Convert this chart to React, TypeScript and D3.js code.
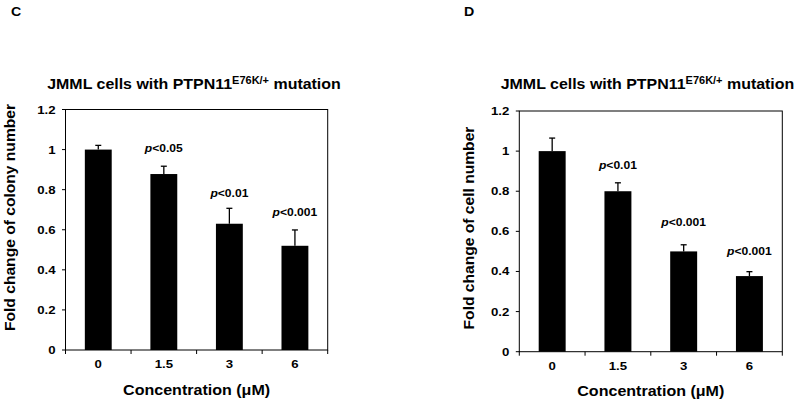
import React from "react";
import * as d3 from "d3";

const categories = ["0", "1.5", "3", "6"];
const yTicks = [0, 0.2, 0.4, 0.6, 0.8, 1, 1.2];
const yTickLabels = ["0", "0.2", "0.4", "0.6", "0.8", "1", "1.2"];

const colonyValues = [1.0, 0.878, 0.63, 0.52];
const colonyErrors = [0.021, 0.039, 0.077, 0.079];
const colonyPLabels = ["", "<0.05", "<0.01", "<0.001"];
const colonyPLabelY = [0, 0.988, 0.763, 0.669];

const cellValues = [1.0, 0.8, 0.5, 0.377];
const cellErrors = [0.065, 0.042, 0.033, 0.022];
const cellPLabels = ["", "<0.01", "<0.001", "<0.001"];
const cellPLabelY = [0, 0.911, 0.629, 0.48];

const FONT = "'Liberation Sans', Arial, Helvetica, sans-serif";

type TProps = {
  x: number;
  y: number;
  size: number;
  sx?: number;
  rotate?: number;
  anchor?: "start" | "middle" | "end";
  children: React.ReactNode;
};

function T({ x, y, size, sx = 1.1, rotate = 0, anchor = "start", children }: TProps) {
  return (
    <text
      transform={`translate(${x},${y}) rotate(${rotate}) scale(${sx},1)`}
      textAnchor={anchor}
      fontFamily={FONT}
      fontWeight="bold"
      fontSize={size}
      fill="#000"
    >
      {children}
    </text>
  );
}

type PanelProps = {
  letter: string;
  letterX: number;
  x0: number;
  x1: number;
  yTop: number;
  yBottom: number;
  values: number[];
  errors: number[];
  pLabels: string[];
  pLabelY: number[];
  yTitle: string;
  yTitleX: number;
  yTitleY: number;
  xTitleY: number;
  xLabelY: number;
  titleX: number;
};

function Panel(p: PanelProps) {
  const x = d3.scaleBand<string>().domain(categories).range([p.x0, p.x1]).paddingInner(0.59).paddingOuter(0.295);
  const y = d3.scaleLinear().domain([0, 1.2]).range([p.yBottom, p.yTop]);
  const step = x.step();
  const boundaries = d3.range(categories.length + 1).map((i) => p.x0 + i * step);
  const bw = x.bandwidth();
  const cap = 3;
  return (
    <g>
      <T x={p.letterX} y={16} size={13.5} sx={1.05}>
        {p.letter}
      </T>
      <T x={p.titleX} y={89} size={14.5} anchor="middle">
        JMML cells with PTPN11
        <tspan fontSize={10} dy={-5}>E76K/+</tspan>
        <tspan dy={5}> mutation</tspan>
      </T>
      <rect x={p.x0} y={p.yTop} width={p.x1 - p.x0} height={p.yBottom - p.yTop} fill="none" stroke="#000" strokeWidth={1} />
      {yTicks.map((t, i) => (
        <g key={"yt" + i}>
          <line x1={p.x0 - 3.5} x2={p.x0} y1={y(t)} y2={y(t)} stroke="#000" />
          <T x={p.x0 - 10} y={y(t) + 4} size={11} sx={1.2} anchor="end">
            {yTickLabels[i]}
          </T>
        </g>
      ))}
      {boundaries.map((b, i) => (
        <line key={"xt" + i} x1={b} x2={b} y1={p.yBottom} y2={p.yBottom + 4} stroke="#000" />
      ))}
      {categories.map((c) => (
        <T key={"xl" + c} x={(x(c) as number) + bw / 2} y={p.xLabelY} size={11} sx={1.2} anchor="middle">
          {c}
        </T>
      ))}
      {categories.map((c, i) => {
        const cx = (x(c) as number) + bw / 2;
        const top = y(p.values[i] + p.errors[i]);
        return (
          <g key={"b" + c}>
            <line x1={cx} x2={cx} y1={y(p.values[i])} y2={top} stroke="#000" strokeWidth={1.3} />
            <line x1={cx - cap} x2={cx + cap} y1={top} y2={top} stroke="#000" strokeWidth={1.3} />
            <rect x={x(c)} y={y(p.values[i])} width={bw} height={p.yBottom - y(p.values[i])} fill="#000" />
            {p.pLabels[i] && (
              <T x={cx} y={y(p.pLabelY[i])} size={11} sx={1.1} anchor="middle">
                <tspan fontStyle="italic">p</tspan>
                {p.pLabels[i]}
              </T>
            )}
          </g>
        );
      })}
      <T x={(p.x0 + p.x1) / 2} y={p.xTitleY} size={14.6} anchor="middle">
        Concentration (μM)
      </T>
      <T x={p.yTitleX} y={p.yTitleY} size={14.2} rotate={-90} anchor="middle">
        {p.yTitle}
      </T>
    </g>
  );
}

export default function App() {
  return (
    <svg width={800} height={405} style={{ position: "absolute", left: 0, top: 0, background: "#fff" }}>
      <rect x={0} y={0} width={800} height={405} fill="#fff" />
      <Panel
        letter="C"
        letterX={11}
        x0={65.5}
        x1={327.7}
        yTop={109.5}
        yBottom={350}
        values={colonyValues}
        errors={colonyErrors}
        pLabels={colonyPLabels}
        pLabelY={colonyPLabelY}
        yTitle="Fold change of colony number"
        yTitleX={15}
        yTitleY={217.5}
        xTitleY={395}
        xLabelY={368}
        titleX={194}
      />
      <Panel
        letter="D"
        letterX={464}
        x0={519.3}
        x1={782.3}
        yTop={111}
        yBottom={351.7}
        values={cellValues}
        errors={cellErrors}
        pLabels={cellPLabels}
        pLabelY={cellPLabelY}
        yTitle="Fold change of cell number"
        yTitleX={474}
        yTitleY={228}
        xTitleY={396}
        xLabelY={370}
        titleX={647.5}
      />
    </svg>
  );
}
